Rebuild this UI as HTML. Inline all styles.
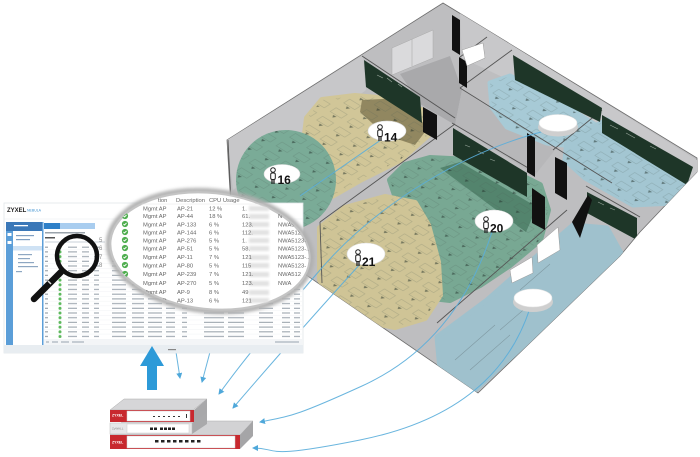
<!DOCTYPE html>
<html><head><meta charset="utf-8"><style>
html,body{margin:0;padding:0;background:#fff;}
svg{display:block;}
text{font-family:"Liberation Sans",sans-serif;}
</style></head><body>
<svg width="700" height="457" viewBox="0 0 700 457" xmlns="http://www.w3.org/2000/svg">
<defs>
<marker id="ah" viewBox="0 0 6 6" refX="5" refY="3" markerWidth="6" markerHeight="6" markerUnits="userSpaceOnUse" orient="auto"><path d="M0,0 L6,3 L0,6 z" fill="#3d9fd6"/></marker>
<clipPath id="bld"><polygon points="443,3 697,158 697,172 640,232 620,256 478,393 232,224 227,140"/></clipPath>
<clipPath id="lensclip"><ellipse cx="210" cy="251" rx="100" ry="58" transform="rotate(6 210 251)"/></clipPath>
<clipPath id="cov">
<ellipse cx="286" cy="180" rx="50" ry="50"/>
<polygon points="307,118 322,100 355,96 400,100 425,112 428,135 400,160 360,180 332,196 310,190 303,150"/>
<polygon points="390,180 405,165 430,158 470,160 510,170 540,185 548,210 540,240 510,265 480,285 450,300 432,298 425,265 410,215 395,195"/>
<polygon points="320,228 345,208 385,197 415,203 428,225 438,262 440,295 425,318 395,327 360,320 335,305 320,280"/>
<polygon points="490,83 510,76 553,98 597,126 580,147 547,143 507,127 492,107"/>
<polygon points="567,140 607,120 653,150 690,185 673,203 633,205 585,178 565,160"/>
</clipPath>
<pattern id="desks" width="20" height="16" patternUnits="userSpaceOnUse" patternTransform="matrix(0.85,0.52,-0.845,0.536,0,0)">
<rect x="3" y="3" width="13" height="7" fill="none" stroke="#4a5a53" stroke-width="0.6" opacity="0.45"/>
<polygon points="8,11.5 12,11.5 10,14.5" fill="#22302a" opacity="0.85"/>
</pattern>
<filter id="bl1" x="-20%" y="-20%" width="140%" height="140%"><feGaussianBlur stdDeviation="1.6"/></filter>
<filter id="bl2"><feGaussianBlur stdDeviation="1"/></filter>
<pattern id="rows" x="44" y="245" width="260" height="4.7" patternUnits="userSpaceOnUse">
<rect x="1" y="1.6" width="3" height="1.2" fill="#9aa3ab"/>
<circle cx="16" cy="2.2" r="1.5" fill="#5cb85c"/>
<g fill="#a5adb5">
<rect x="24" y="1.6" width="9" height="1.2"/><rect x="38" y="1.6" width="7" height="1.2"/>
<rect x="50" y="1.6" width="5" height="1.2"/><rect x="68" y="1.6" width="14" height="1.2"/>
<rect x="88" y="1.6" width="12" height="1.2"/><rect x="104" y="1.6" width="14" height="1.2"/>
<rect x="122" y="1.6" width="9" height="1.2"/><rect x="138" y="1.6" width="5" height="1.2"/>
<rect x="160" y="1.6" width="20" height="1.2"/><rect x="184" y="1.6" width="16" height="1.2"/>
<rect x="215" y="1.6" width="14" height="1.2"/><rect x="238" y="1.6" width="8" height="1.2"/>
<rect x="250" y="1.6" width="6" height="1.2"/>
</g>
<rect x="0" y="4.3" width="260" height="0.4" fill="#eef0f2"/>
</pattern>
</defs>

<!-- BUILDING -->
<polygon points="443,3 697,158 697,172 640,232 620,256 478,393 232,224 227,140" fill="#bebec0" stroke="#6d6d6d" stroke-width="0.8"/>
<g clip-path="url(#bld)">
<polygon points="227,140 363,55 366,90 300,140 233,190" fill="#c7c7c9"/>
<polygon points="460,13 697,160 697,205 602,135 513,82 462,58" fill="#c8c8ca"/>
<polygon points="400,74 450,56 462,90 455,125 420,104" fill="#a9a9ab"/>
<polygon points="392,48 433,30 433,58 392,75" fill="#dadadc" stroke="#aaa" stroke-width="0.5"/>
<line x1="412" y1="39" x2="412" y2="66" stroke="#aaa" stroke-width="0.6"/>
<polygon points="462,90 555,150 535,175 455,125" fill="#b7b7b9"/>

<polygon points="307,118 322,100 355,96 400,100 425,112 428,135 400,160 360,180 332,196 310,190 303,150" fill="#d1c698" stroke="#d1c698" stroke-width="6" stroke-linejoin="round"/>
<polygon points="362,100 400,98 428,128 415,145 385,135 360,112" fill="#867b56" opacity="0.85"/>
<ellipse cx="286" cy="180" rx="50" ry="50" fill="#7aab97"/>
<polygon points="390,180 405,165 430,158 470,160 510,170 540,185 548,210 540,240 510,265 480,285 450,300 432,298 425,265 410,215 395,195" fill="#78a893" stroke="#78a893" stroke-width="6" stroke-linejoin="round"/>
<polygon points="440,168 460,162 537,207 526,232" fill="#4f7f69" opacity="0.9"/>
<polygon points="320,228 345,208 385,197 415,203 428,225 438,262 440,295 425,318 395,327 360,320 335,305 320,280" fill="#cfc496" stroke="#cfc496" stroke-width="6" stroke-linejoin="round"/>
<polygon points="490,83 510,76 553,98 597,126 580,147 547,143 507,127 492,107" fill="#a7cad6" stroke="#a7cad6" stroke-width="5" stroke-linejoin="round"/>
<polygon points="567,140 607,120 653,150 690,185 673,203 633,205 585,178 565,160" fill="#a3c6d2" stroke="#a3c6d2" stroke-width="5" stroke-linejoin="round"/>
<polygon points="573,225 607,228 621,253 555,317 474,391 440,370 437,337 487,300 530,262" fill="#9fc1cd" stroke="#9fc1cd" stroke-width="5" stroke-linejoin="round"/>
<g clip-path="url(#cov)"><rect x="220" y="0" width="480" height="400" fill="url(#desks)" opacity="0.6"/></g>
<g stroke="#6a7f86" stroke-width="0.6" fill="none" opacity="0.6">
<path d="M455,360 l40,-35 M470,370 l40,-35 M500,330 l35,-30 M520,290 l30,-26"/>
</g>

<g stroke="#555" stroke-width="0.9" fill="none">
<line x1="362" y1="56" x2="455" y2="118"/>
<line x1="320" y1="222" x2="455" y2="124"/>
<line x1="452" y1="123" x2="535" y2="172"/>
<line x1="460" y1="88" x2="612" y2="183"/>
<line x1="602" y1="110" x2="553" y2="150"/>
<line x1="512" y1="50" x2="460" y2="88"/>
<line x1="487" y1="37" x2="460" y2="57"/>
<line x1="437" y1="323" x2="567" y2="210"/>
<line x1="586" y1="186" x2="640" y2="217"/>
<line x1="228" y1="140" x2="232" y2="224"/>
<line x1="320" y1="222" x2="322" y2="283"/>
</g>

<g fill="#1e3628">
<polygon points="364,60 420,97 422,123 366,87"/>
<polygon points="453,128 527,173 527,197 453,155"/>
<polygon points="513,55 602,108 600,122 515,80"/>
<polygon points="602,115 693,167 687,185 602,133"/>
<polygon points="587,192 637,218 637,240 587,213"/>
</g>
<g stroke="#cfd8cf" stroke-width="0.6" fill="none" opacity="0.7">
<path d="M377,75 l6,3 m4,0 l5,4 m6,2 l4,3"/>
<path d="M465,145 l5,2 m8,4 l6,3 m6,5 l5,2"/>
<path d="M610,125 l8,4 m8,4 l9,5 m15,8 l6,3"/>
<path d="M598,202 l6,3 m6,3 l5,2"/>
</g>

<g fill="#111">
<polygon points="452,15 460,20 460,55 452,50"/>
<polygon points="459,57 467,62 467,88 459,83"/>
<polygon points="423,107 437,115 437,140 423,132"/>
<polygon points="527,133 535,138 535,177 527,172"/>
<polygon points="555,157 567,163 567,200 555,193"/>
<polygon points="532,188 545,197 545,230 532,223"/>
<polygon points="572,222 588,195 592,200 580,238"/>
</g>
<g fill="#fff" stroke="#999" stroke-width="0.5">
<polygon points="462,50 483,43 485,58 467,66"/>
<polygon points="510,270 532,257 533,273 512,283"/>
<polygon points="537,245 558,227 560,250 538,263"/>
</g>
</g>

<!-- connector lines -->
<g fill="none" stroke="#5aaedb" stroke-width="1" opacity="0.9">
<path d="M385,137 L300,196"/>
<path d="M545,131 C470,150 380,200 320,270 S240,365 219,394" marker-end="url(#ah)"/>
<path d="M362,262 Q300,330 233,408" marker-end="url(#ah)"/>
<path d="M492,232 C470,300 430,355 362,386 S290,416 260,422" marker-end="url(#ah)"/>
<path d="M530,308 C510,370 460,420 360,440 S280,448 253,448" marker-end="url(#ah)"/>
<path d="M176,352 L180,378" marker-end="url(#ah)"/>
<path d="M210,352 L202,382" marker-end="url(#ah)"/>
</g>

<!-- APs -->
<g>
<ellipse cx="282" cy="174" rx="18" ry="9.5" fill="#fff" stroke="#ddd" stroke-width="0.6"/>
<ellipse cx="387" cy="131" rx="19" ry="10" fill="#fff" stroke="#ddd" stroke-width="0.6"/>
<ellipse cx="366" cy="254" rx="19" ry="11" fill="#fff" stroke="#ddd" stroke-width="0.6"/>
<ellipse cx="494" cy="221" rx="19" ry="11" fill="#fff" stroke="#ddd" stroke-width="0.6"/>
<ellipse cx="558" cy="127" rx="20" ry="9.5" fill="#cfcfcf"/>
<ellipse cx="558" cy="123" rx="19" ry="8.5" fill="#fff" stroke="#e2e2e2" stroke-width="0.6"/>
<ellipse cx="533" cy="302" rx="20" ry="10" fill="#cfcfcf"/>
<ellipse cx="533" cy="298" rx="19" ry="9" fill="#fff" stroke="#e2e2e2" stroke-width="0.6"/>
</g>

<g stroke="#222" stroke-width="1" fill="#fff">
<circle cx="273" cy="170" r="2.3"/><rect x="270.7" y="173" width="4.6" height="6.5" rx="1.5"/>
<circle cx="380" cy="127" r="2.3"/><rect x="377.7" y="130" width="4.6" height="6.5" rx="1.5"/>
<circle cx="358" cy="252" r="2.3"/><rect x="355.7" y="255" width="4.6" height="6.5" rx="1.5"/>
<circle cx="486" cy="219" r="2.3"/><rect x="483.7" y="222" width="4.6" height="6.5" rx="1.5"/>
</g>
<g stroke="#222" stroke-width="1.3">
<path d="M272,179.5v4.5M274,179.5v4.5"/>
<path d="M379,136.5v4.5M381,136.5v4.5"/>
<path d="M357,261.5v4.5M359,261.5v4.5"/>
<path d="M485,228.5v4.5M487,228.5v4.5"/>
</g>
<g font-size="12" font-weight="bold" fill="#111">
<text x="277.5" y="184">16</text>
<text x="384" y="141.5">14</text>
<text x="362" y="266">21</text>
<text x="490" y="232.5">20</text>
</g>

<!-- SCREEN -->
<rect x="4" y="203" width="299" height="150" fill="#fff" stroke="#e2e6ea" stroke-width="0.8"/>
<text x="7" y="212" font-size="6" font-weight="bold" fill="#222">ZYXEL</text>
<text x="27" y="211.5" font-size="3.5" fill="#3a8fd0">NEBULA</text>
<line x1="4" y1="219" x2="303" y2="219" stroke="#e8ecef" stroke-width="0.6"/>
<rect x="6" y="222" width="36" height="9" fill="#3b78b8"/>
<rect x="14" y="225" width="14" height="1.3" fill="#fff"/>
<rect x="6" y="231" width="7" height="121" fill="#5b9ed8"/>
<rect x="7.5" y="233" width="4" height="3" fill="#fff"/>
<rect x="7.5" y="241" width="4" height="3" fill="#fff"/>
<rect x="42" y="222" width="1.5" height="130" fill="#5b9ed8"/>
<g fill="#7f9fc2">
<rect x="16" y="235" width="18" height="1.2"/><rect x="16" y="239" width="14" height="1.2"/>
</g>
<rect x="13" y="246" width="29" height="4.5" fill="#cfe2f4"/>
<g fill="#8ea7c2">
<rect x="18" y="254" width="14" height="1.2"/><rect x="18" y="258" width="12" height="1.2"/>
<rect x="18" y="262" width="16" height="1.2"/><rect x="18" y="266" width="20" height="1.2"/>
<rect x="16" y="271" width="6" height="1.2"/>
</g>
<rect x="44" y="223" width="16" height="6" fill="#2f80c8"/>
<rect x="60" y="223" width="35" height="6" fill="#a9cdef"/>
<rect x="45" y="232" width="40" height="1.5" fill="#9aa3ab"/>
<rect x="45" y="237" width="10" height="1.5" fill="#555"/>
<rect x="45" y="241" width="60" height="2" fill="#e4e8ec"/>
<rect x="44" y="245" width="258" height="93" fill="url(#rows)"/>
<rect x="44" y="339" width="258" height="6" fill="#f3f5f7"/>
<g fill="#c5ccd3">
<rect x="46" y="341" width="3" height="2"/><rect x="52" y="341" width="6" height="2"/>
<rect x="61" y="341" width="8" height="2"/><rect x="72" y="341" width="12" height="2"/>
<rect x="275" y="341" width="24" height="2"/>
</g>
<rect x="4" y="345" width="299" height="8" fill="#e8edf1"/>
<rect x="168" y="349" width="8" height="1.2" fill="#888"/>

<!-- magnifier glass -->
<circle cx="77" cy="256" r="20" fill="none" stroke="#111" stroke-width="4.5"/>
<line x1="61" y1="272" x2="34" y2="299" stroke="#111" stroke-width="6.5" stroke-linecap="round"/>
<line x1="48" y1="281" x2="51" y2="284" stroke="#ddd" stroke-width="1.5"/>

<!-- LENS -->
<ellipse cx="210" cy="251" rx="102" ry="60" transform="rotate(6 210 251)" fill="none" stroke="#b0b0b0" stroke-width="5" filter="url(#bl1)"/>
<ellipse cx="210" cy="251" rx="100" ry="58" transform="rotate(6 210 251)" fill="#fff" stroke="#c4c4c4" stroke-width="2"/>
<g fill="#888" font-size="6">
<text x="99" y="242">5</text><text x="99" y="250">6</text><text x="99" y="259">7</text><text x="99" y="267">8</text>
</g>
<g clip-path="url(#lensclip)" font-size="5.8" fill="#666">
<text x="158" y="202">tion</text>
<text x="176" y="202">Description</text>
<text x="209" y="202">CPU Usage</text>
<line x1="110" y1="204" x2="310" y2="204" stroke="#e6e6e6" stroke-width="0.5"/>
<g fill="#4fae4f">
<circle cx="125" cy="216" r="3.1"/><circle cx="125" cy="224" r="3.1"/><circle cx="125" cy="232" r="3.1"/>
<circle cx="125" cy="240" r="3.1"/><circle cx="125" cy="248" r="3.1"/><circle cx="125" cy="257" r="3.1"/>
<circle cx="125" cy="265" r="3.1"/><circle cx="125" cy="274" r="3.1"/><circle cx="125" cy="283" r="3.1"/>
<circle cx="125" cy="292" r="3.1"/><circle cx="125" cy="208" r="3.1"/>
</g>
<g fill="#e2e2e2" filter="url(#bl2)">
<rect x="249" y="206" width="20" height="5"/><rect x="249" y="214" width="20" height="5"/>
<rect x="249" y="222" width="20" height="5"/><rect x="249" y="230" width="20" height="5"/>
<rect x="249" y="238" width="20" height="5"/><rect x="249" y="246" width="20" height="5"/>
<rect x="249" y="255" width="20" height="5"/><rect x="249" y="263" width="20" height="5"/>
<rect x="249" y="272" width="20" height="5"/><rect x="249" y="281" width="20" height="5"/>
<rect x="249" y="290" width="20" height="5"/><rect x="249" y="298" width="20" height="5"/>
</g>
<text x="143" y="210.5">Mgmt AP</text><text x="177" y="210.5">AP-21</text><text x="209" y="210.5">12 %</text><text x="242" y="210.5">1.</text>
<text x="143" y="218">Mgmt AP</text><text x="177" y="218">AP-44</text><text x="209" y="218">18 %</text><text x="242" y="218">61.</text><text x="278" y="218">N</text>
<text x="143" y="226.5">Mgmt AP</text><text x="177" y="226.5">AP-133</text><text x="209" y="226.5">6 %</text><text x="242" y="226.5">123.</text><text x="278" y="226.5">NWA5</text>
<text x="143" y="234.5">Mgmt AP</text><text x="177" y="234.5">AP-144</text><text x="209" y="234.5">6 %</text><text x="242" y="234.5">112.</text><text x="278" y="234.5">NWA512</text>
<text x="143" y="242.5">Mgmt AP</text><text x="177" y="242.5">AP-276</text><text x="209" y="242.5">5 %</text><text x="242" y="242.5">1.</text><text x="278" y="242.5">NWA5123-...</text>
<text x="143" y="250.5">Mgmt AP</text><text x="177" y="250.5">AP-51</text><text x="209" y="250.5">5 %</text><text x="242" y="250.5">58.</text><text x="278" y="250.5">NWA5123-...</text>
<text x="143" y="259">Mgmt AP</text><text x="177" y="259">AP-11</text><text x="209" y="259">7 %</text><text x="242" y="259">121</text><text x="278" y="259">NWA5123-...</text>
<text x="143" y="267.5">Mgmt AP</text><text x="177" y="267.5">AP-80</text><text x="209" y="267.5">5 %</text><text x="242" y="267.5">115</text><text x="278" y="267.5">NWA5123-</text>
<text x="143" y="276">Mgmt AP</text><text x="177" y="276">AP-239</text><text x="209" y="276">7 %</text><text x="242" y="276">121.</text><text x="278" y="276">NWA512</text>
<text x="143" y="285">Mgmt AP</text><text x="177" y="285">AP-270</text><text x="209" y="285">5 %</text><text x="242" y="285">123.</text><text x="278" y="285">NWA</text>
<text x="143" y="294">Mgmt AP</text><text x="177" y="294">AP-9</text><text x="209" y="294">8 %</text><text x="242" y="294">49</text>
<text x="143" y="302.5">Mgmt AP</text><text x="177" y="302.5">AP-13</text><text x="209" y="302.5">6 %</text><text x="242" y="302.5">121</text>
<rect x="278" y="205" width="25" height="7" rx="3.5" fill="#5aa7e0"/>
<circle cx="282" cy="208.5" r="2" fill="#fff"/>
</g>
<g stroke="#fff" stroke-width="0.9" fill="none" clip-path="url(#lensclip)">
<path d="M123.5,208 l1,1 l2,-2"/><path d="M123.5,216 l1,1 l2,-2"/><path d="M123.5,224 l1,1 l2,-2"/>
<path d="M123.5,232 l1,1 l2,-2"/><path d="M123.5,240 l1,1 l2,-2"/><path d="M123.5,248 l1,1 l2,-2"/>
<path d="M123.5,257 l1,1 l2,-2"/><path d="M123.5,265 l1,1 l2,-2"/><path d="M123.5,274 l1,1 l2,-2"/>
<path d="M123.5,283 l1,1 l2,-2"/><path d="M123.5,292 l1,1 l2,-2"/>
</g>

<!-- blue up arrow -->
<polygon points="152,346 164,366 157,366 157,390 147,390 147,366 140,366" fill="#2d9ad8"/>

<!-- FIREWALLS -->
<polygon points="110,435 240,435 253,421 123,421" fill="#d2d2d4" stroke="#aaa" stroke-width="0.5"/>
<rect x="110" y="435" width="130" height="14" fill="#c8282e"/>
<rect x="127" y="436" width="108" height="12" fill="#fff" stroke="#ccc" stroke-width="0.5"/>
<polygon points="240,435 253,421 253,436 240,449" fill="#a5a5a7"/>
<text x="112" y="443.5" font-size="3.5" fill="#fff" font-weight="bold">ZYXEL</text>
<g fill="#222">
<rect x="155" y="440" width="3.5" height="2.5"/><rect x="161" y="440" width="3.5" height="2.5"/>
<rect x="167" y="440" width="3.5" height="2.5"/><rect x="173" y="440" width="3.5" height="2.5"/>
<rect x="179" y="440" width="3.5" height="2.5"/><rect x="185" y="440" width="3.5" height="2.5"/>
<rect x="191" y="440" width="3.5" height="2.5"/><rect x="197" y="440" width="3.5" height="2.5"/>
</g>
<polygon points="192,423 207,411 207,424 192,434" fill="#a9a9ab"/>
<rect x="110" y="423" width="82" height="11" fill="#e6e6e8" stroke="#bbb" stroke-width="0.5"/>
<rect x="127" y="424" width="62" height="9" fill="#fff" stroke="#ccc" stroke-width="0.5"/>
<text x="112" y="429.5" font-size="3" fill="#888">ZyWALL</text>
<g fill="#222">
<rect x="150" y="427.5" width="3" height="2.5"/><rect x="154" y="427.5" width="3" height="2.5"/>
<rect x="160" y="427.5" width="3" height="2.5"/><rect x="164" y="427.5" width="3" height="2.5"/>
<rect x="168" y="427.5" width="3" height="2.5"/><rect x="172" y="427.5" width="3" height="2.5"/>
</g>
<polygon points="110,410 193,410 207,399 124,399" fill="#d6d6d8" stroke="#aaa" stroke-width="0.5"/>
<rect x="110" y="410" width="84" height="12" fill="#c8282e"/>
<rect x="127" y="411" width="63" height="10" fill="#fff" stroke="#ccc" stroke-width="0.5"/>
<polygon points="194,410 207,399 207,412 194,422" fill="#a8a8aa"/>
<text x="112" y="416.5" font-size="3.5" fill="#fff" font-weight="bold">ZYXEL</text>
<g fill="#333">
<rect x="153" y="416" width="2" height="1"/><rect x="158" y="416" width="2" height="1"/>
<rect x="163" y="416" width="2" height="1"/><rect x="168" y="416" width="2" height="1"/>
<rect x="173" y="416" width="2" height="1"/><rect x="178" y="416" width="2" height="1"/>
<rect x="186" y="414" width="1" height="4"/>
</g>
</svg>
</body></html>
